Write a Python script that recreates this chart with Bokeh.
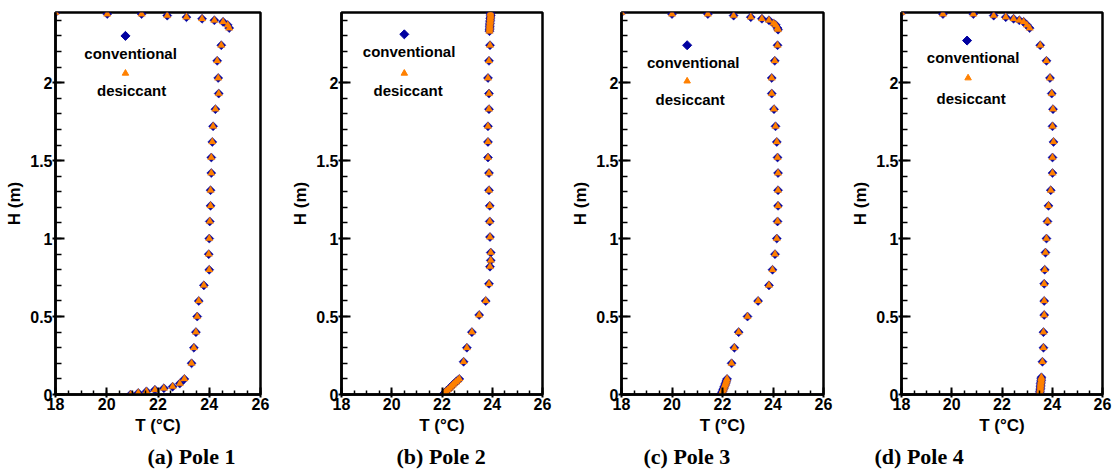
import math
from bokeh.plotting import figure
from bokeh.layouts import row
from bokeh.models import Range1d, FixedTicker, NumeralTickFormatter, Title
from bokeh.core.properties import value
from bokeh.embed import file_html
from bokeh.resources import INLINE

# ---------------- data (T in °C, H in m) ----------------
H1 = [2.45, 2.44, 2.44, 2.43, 2.42, 2.41, 2.40, 2.39, 2.37, 2.35,
      2.24, 2.14, 2.03, 1.93, 1.83, 1.72, 1.62, 1.52, 1.42, 1.31, 1.21, 1.11,
      1.00, 0.90, 0.80, 0.70, 0.60, 0.50, 0.40, 0.30, 0.20, 0.10,
      0.07, 0.05, 0.04, 0.03, 0.02, 0.01, 0.00]
T1_conventional = [18.00, 20.02, 21.36, 22.36, 23.11, 23.72, 24.20, 24.54, 24.72, 24.78,
                   24.47, 24.31, 24.35, 24.37, 24.24, 24.15, 24.12, 24.08, 24.08, 24.05, 24.05, 24.02,
                   24.00, 23.98, 24.00, 23.79, 23.59, 23.53, 23.48, 23.40, 23.31, 23.03,
                   22.85, 22.57, 22.23, 21.88, 21.55, 21.23, 20.93]
T1_desiccant = [18.00, 20.02, 21.36, 22.36, 23.11, 23.72, 24.20, 24.54, 24.72, 24.78,
                24.47, 24.31, 24.35, 24.37, 24.24, 24.15, 24.12, 24.08, 24.08, 24.05, 24.05, 24.02,
                24.00, 23.98, 24.00, 23.79, 23.59, 23.53, 23.48, 23.40, 23.31, 23.03,
                22.85, 22.57, 22.23, 21.88, 21.55, 21.23, 20.93]

H2 = [2.45, 2.44, 2.43, 2.42, 2.41, 2.40, 2.39, 2.38, 2.37, 2.36, 2.35, 2.34, 2.33,
      2.24, 2.14, 2.03, 1.93, 1.83, 1.72, 1.62, 1.52, 1.42, 1.31, 1.21, 1.11,
      1.01, 0.91, 0.86, 0.82, 0.71, 0.60, 0.51, 0.40, 0.30, 0.21,
      0.10, 0.09, 0.08, 0.07, 0.06, 0.05, 0.04, 0.03, 0.02, 0.01, 0.00]
T2_conventional = [23.93, 23.93, 23.94, 23.93, 23.92, 23.92, 23.91, 23.91, 23.90, 23.90, 23.90, 23.89, 23.89,
                   23.91, 23.87, 23.83, 23.87, 23.87, 23.83, 23.83, 23.83, 23.87, 23.87, 23.90, 23.90,
                   23.91, 23.94, 23.94, 23.91, 23.87, 23.74, 23.48, 23.19, 22.99, 22.86,
                   22.69, 22.62, 22.55, 22.48, 22.42, 22.36, 22.30, 22.23, 22.16, 22.10, 22.05]
T2_desiccant = [23.93, 23.93, 23.94, 23.93, 23.92, 23.92, 23.91, 23.91, 23.90, 23.90, 23.90, 23.89, 23.89,
                23.91, 23.87, 23.83, 23.87, 23.87, 23.83, 23.83, 23.83, 23.87, 23.87, 23.90, 23.90,
                23.91, 23.94, 23.94, 23.91, 23.87, 23.74, 23.48, 23.19, 22.99, 22.86,
                22.69, 22.62, 22.55, 22.48, 22.42, 22.36, 22.30, 22.23, 22.16, 22.10, 22.05]

H3 = [2.45, 2.44, 2.44, 2.43, 2.42, 2.41, 2.40, 2.38, 2.37, 2.35, 2.34,
      2.24, 2.14, 2.03, 1.93, 1.83, 1.72, 1.62, 1.52, 1.42, 1.31, 1.21, 1.11,
      1.00, 0.90, 0.80, 0.70, 0.60, 0.50, 0.40, 0.30, 0.20,
      0.10, 0.09, 0.08, 0.07, 0.06, 0.05, 0.04, 0.03, 0.02, 0.01, 0.00]
T3_conventional = [18.00, 20.00, 21.42, 22.44, 23.12, 23.56, 23.84, 24.02, 24.11, 24.18, 24.20,
                   24.18, 24.07, 23.95, 23.95, 24.04, 24.10, 24.15, 24.18, 24.20, 24.20, 24.20, 24.18,
                   24.15, 24.08, 23.98, 23.84, 23.41, 22.99, 22.64, 22.47, 22.36,
                   22.18, 22.16, 22.14, 22.12, 22.10, 22.07, 22.05, 22.02, 22.00, 21.97, 21.94]
T3_desiccant = [18.00, 20.00, 21.42, 22.44, 23.12, 23.56, 23.84, 24.02, 24.11, 24.18, 24.20,
                24.18, 24.07, 23.95, 23.95, 24.04, 24.10, 24.15, 24.18, 24.20, 24.20, 24.20, 24.18,
                24.15, 24.08, 23.98, 23.84, 23.41, 22.99, 22.64, 22.47, 22.36,
                22.18, 22.16, 22.14, 22.12, 22.10, 22.07, 22.05, 22.02, 22.00, 21.97, 21.94]

H4 = [2.45, 2.44, 2.44, 2.43, 2.42, 2.41, 2.40, 2.39, 2.37, 2.35,
      2.24, 2.14, 2.03, 1.93, 1.83, 1.72, 1.62, 1.52, 1.42, 1.31, 1.21, 1.11,
      1.00, 0.91, 0.80, 0.71, 0.60, 0.51, 0.40, 0.30, 0.21,
      0.11, 0.10, 0.09, 0.08, 0.07, 0.06, 0.05, 0.04, 0.03, 0.02, 0.01, 0.00]
T4_conventional = [18.00, 19.65, 20.86, 21.67, 22.15, 22.46, 22.69, 22.86, 22.99, 23.10,
                   23.52, 23.77, 23.91, 23.98, 24.03, 24.01, 24.05, 24.01, 24.01, 23.94, 23.85, 23.81,
                   23.77, 23.73, 23.70, 23.68, 23.68, 23.68, 23.65, 23.65, 23.61,
                   23.57, 23.56, 23.56, 23.55, 23.54, 23.54, 23.53, 23.53, 23.52, 23.51, 23.51, 23.50]
T4_desiccant = [18.00, 19.65, 20.86, 21.67, 22.15, 22.46, 22.69, 22.86, 22.99, 23.10,
                23.52, 23.77, 23.91, 23.98, 24.03, 24.01, 24.05, 24.01, 24.01, 23.94, 23.85, 23.81,
                23.77, 23.73, 23.70, 23.68, 23.68, 23.68, 23.65, 23.65, 23.61,
                23.57, 23.56, 23.56, 23.55, 23.54, 23.54, 23.53, 23.53, 23.52, 23.51, 23.51, 23.50]

captions = ["(a) Pole 1", "(b) Pole 2", "(c) Pole 3", "(d) Pole 4"]
series_names = ["conventional", "desiccant"]
x_ticks = [18, 20, 22, 24, 26]
y_ticks = [0, 0.5, 1, 1.5, 2]

# ---------------- styling / layout ----------------
BLUE = "#0000A0"
ORANGE = "#FF8000"
SANS = "Liberation Sans"
SERIF = "Liberation Serif"

# in-panel legend placement (data coords): diamond, text1, triangle, text2
legend_pos = [
    [(20.73, 2.30), (20.93, 2.19), (20.73, 2.06), (20.97, 1.95)],
    [(20.50, 2.31), (20.69, 2.20), (20.50, 2.06), (20.65, 1.95)],
    [(20.60, 2.24), (20.84, 2.13), (20.60, 2.01), (20.72, 1.89)],
    [(20.61, 2.27), (20.85, 2.16), (20.65, 2.03), (20.77, 1.90)],
]
# width, border_left, border_right, caption offset
panel_layout = [
    (288, 55, 28, 92),
    (280, 52, 26, 55),
    (280, 52, 25, 22),
    (265, 52, 11, -27),
]
FIG_H = 472


def make_panel(Tc, Hc, Td, Hd, caption, leg, lay):
    width, bl, br, cap_off = lay
    p = figure(width=width, height=FIG_H, x_range=Range1d(18, 26), y_range=Range1d(0, 2.45),
               output_backend="svg", toolbar_location=None,
               min_border_left=bl, min_border_right=br, min_border_top=12,
               min_border_bottom=FIG_H - 12 - 382)
    p.grid.visible = False
    p.outline_line_color = "black"
    p.outline_line_width = 2.5
    p.outline_line_alpha = 1.0

    minor_x = [18 + 0.5 * i for i in range(17)]
    minor_y = [round(0.1 * i, 1) for i in range(25)]
    p.xaxis.ticker = FixedTicker(ticks=x_ticks, minor_ticks=minor_x)
    p.yaxis.ticker = FixedTicker(ticks=y_ticks, minor_ticks=minor_y)
    p.yaxis.formatter = NumeralTickFormatter(format="0.[0]")

    for ax in (p.xaxis[0], p.yaxis[0]):
        ax.axis_line_width = 2.5
        ax.axis_line_color = "black"
        ax.major_tick_line_width = 2
        ax.minor_tick_line_width = 1.5
        ax.major_tick_line_color = "black"
        ax.minor_tick_line_color = "black"
        ax.major_label_text_font = SANS
        ax.major_label_text_font_style = "bold"
        ax.major_label_text_font_size = "16px"
        ax.major_label_text_color = "black"
        ax.major_label_standoff = 0
        ax.axis_label_text_font = SANS
        ax.axis_label_text_font_style = "bold"
        ax.axis_label_text_font_size = "17px"
        ax.axis_label_text_color = "black"
        ax.axis_label_standoff = 3
    p.xaxis.major_tick_in = 7
    p.xaxis.major_tick_out = 3
    p.xaxis.minor_tick_in = 4
    p.xaxis.minor_tick_out = 0
    p.yaxis.major_tick_in = 9
    p.yaxis.major_tick_out = 3
    p.yaxis.minor_tick_in = 6
    p.yaxis.minor_tick_out = 0
    p.xaxis.axis_label = "T (°C)"
    p.yaxis.axis_label = "H (m)"

    # data
    p.scatter(Tc, Hc, marker="square", angle=math.pi / 4, size=6.4,
              fill_color=BLUE, line_color=BLUE, line_width=0.5)
    p.scatter(Td, Hd, marker="triangle", size=7.5,
              fill_color=ORANGE, line_color=ORANGE, line_width=0.3)

    # legend
    (dx, dy), (t1x, t1y), (tx, ty), (t2x, t2y) = leg
    p.scatter([dx], [dy], marker="square", angle=math.pi / 4, size=6.4,
              fill_color=BLUE, line_color=BLUE)
    p.scatter([tx], [ty], marker="triangle", size=6.5,
              fill_color=ORANGE, line_color=ORANGE)
    p.text([t1x, t2x], [t1y, t2y], text=series_names,
           text_font=value(SANS), text_font_style="bold", text_font_size="15px",
           text_align="center", text_baseline="middle", text_color="black")

    t = Title(text=caption, align="left", offset=cap_off, text_font=SERIF,
              text_font_size="22px", text_font_style="bold", text_color="black", standoff=8)
    p.add_layout(t, "below")
    return p


data = [
    (T1_conventional, H1, T1_desiccant, H1),
    (T2_conventional, H2, T2_desiccant, H2),
    (T3_conventional, H3, T3_desiccant, H3),
    (T4_conventional, H4, T4_desiccant, H4),
]
panels = [make_panel(*d, captions[i], legend_pos[i], panel_layout[i]) for i, d in enumerate(data)]
layout = row(*panels, spacing=0)

open("out.html", "w").write(file_html(layout, INLINE))
